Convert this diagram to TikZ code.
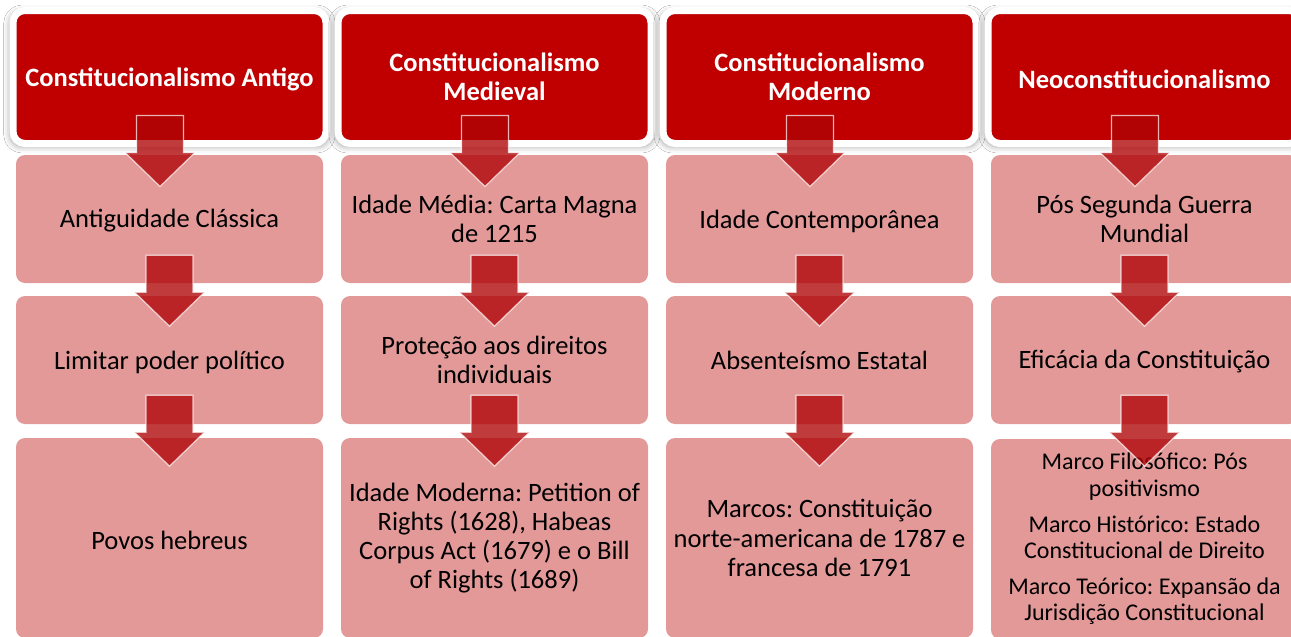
\documentclass[tikz,border=0pt]{standalone}
\usepackage{fontspec}
\setmainfont{Carlito}
\frenchspacing
\usetikzlibrary{shadows.blur,calc}
\definecolor{hdred}{RGB}{192,0,0}
\definecolor{pinkbox}{RGB}{228,153,153}
\definecolor{arrred}{RGB}{175,4,6}
\newcommand\lowr[1]{\raisebox{-2pt}[\height][\depth]{#1}}
\tikzset{
  hdr/.style={fill=hdred, draw=white, line width=7pt, rounded corners=12pt,
    minimum width=313pt, minimum height=133pt, inner sep=0pt, text=white,
    font=\bfseries\fontsize{26.5}{29.1}\selectfont, align=center,
    blur shadow={shadow xshift=0pt, shadow yshift=-2pt, shadow blur radius=6pt,
      shadow blur extra rounding=4pt, shadow scale=1.02, shadow opacity=35}},
  pbox/.style={fill=pinkbox, rounded corners=9pt, minimum width=307pt,
    inner sep=0pt, align=center, text=black,
    font=\fontsize{26.5}{29.1}\selectfont},
  smalltext/.style={font=\fontsize{24}{26.4}\selectfont},
  blkarrow/.style={fill=arrred, fill opacity=0.78, draw=white, draw opacity=0.7,
    line width=1.2pt, line join=miter}
}
\newcommand\blockarr[1]{%
  \draw[blkarrow, shift={#1}] (-23.5,0) -- (23.5,0) -- (23.5,37) -- (35,37)
    -- (0,71) -- (-35,37) -- (-23.5,37) -- cycle;}
\begin{document}
\begin{tikzpicture}[x=1pt,y=-1pt]
\useasboundingbox (0,0) rectangle (1291,637);
\clip (0,0) rectangle (1291,637);
\fill[white] (0,0) rectangle (1291,637);
% headers
\node[hdr] (h1) at (169.5,77) {\lowr{Constitucionalismo Antigo}};
\node[hdr] (h2) at (494.5,77) {Constitucionalismo\\Medieval};
\node[hdr] (h3) at (819.5,77) {Constitucionalismo\\Moderno};
\node[hdr] (h4) at (1144.5,77) {\lowr{Neoconstitucionalismo}};
% row 1
\node[pbox, minimum height=128pt] (a1) at (169.5,219) {\lowr{Antiguidade Clássica}};
\node[pbox, minimum height=128pt] (b1) at (494.5,219) {Idade Média: Carta Magna\\de 1215};
\node[pbox, minimum height=128pt] (c1) at (819.5,219) {\lowr{Idade Contemporânea}};
\node[pbox, minimum height=128pt] (d1) at (1144.5,219) {Pós Segunda Guerra\\Mundial};
% row 2
\node[pbox, minimum height=128pt] (a2) at (169.5,360) {\lowr{Limitar poder político}};
\node[pbox, minimum height=128pt] (b2) at (494.5,360) {Proteção aos direitos\\individuais};
\node[pbox, minimum height=128pt] (c2) at (819.5,360) {Absenteísmo Estatal};
\node[pbox, minimum height=128pt] (d2) at (1144.5,360) {\lowr{Eficácia da Constituição}};
% row 3
\node[pbox, minimum height=200pt] (a3) at (169.5,538) {\lowr{Povos hebreus}};
\node[pbox, minimum height=200pt] (b3) at (494.5,538) {Idade Moderna: Petition of\\Rights (1628), Habeas\\Corpus Act (1679) e o Bill\\of Rights (1689)};
\node[pbox, minimum height=200pt] (c3) at (819.5,538) {Marcos: Constituição\\norte-americana de 1787 e\\francesa de 1791};
\node[pbox, minimum height=200pt, smalltext] (d3) at (1144.5,539) {Marco Filosófico: Pós\\positivismo\\[9.5pt]Marco Histórico: Estado\\Constitucional de Direito\\[9.5pt]Marco Teórico: Expansão da\\Jurisdição Constitucional};
% arrows
\foreach \h/\r/\s in {h1/a1/a2, h2/b1/b2, h3/c1/c2, h4/d1/d2}{
  \blockarr{($(\h.south)+(-9.5,-31.5)$)}
  \blockarr{($(\r.south)+(0,-28)$)}
  \blockarr{($(\s.south)+(0,-29)$)}
}
\end{tikzpicture}
\end{document}
